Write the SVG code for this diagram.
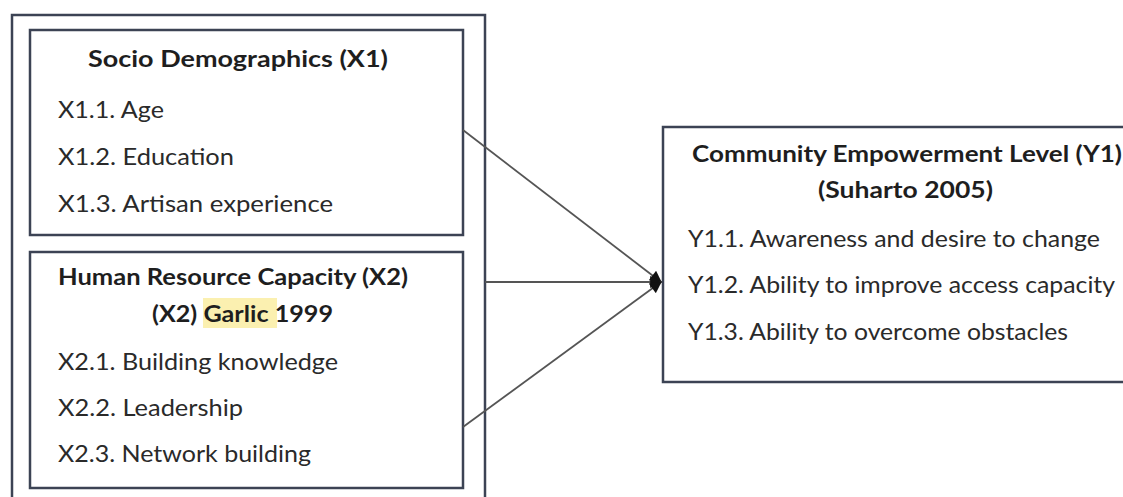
<svg xmlns="http://www.w3.org/2000/svg" width="1123" height="497" viewBox="0 0 1123 497">
<style>
.box{fill:none;stroke:#3c4354;stroke-width:2.5}
.t{font-family:Lato,"Open Sans","Liberation Sans",sans-serif;font-size:23px;fill:#2a2a2a}
.b{font-weight:bold;fill:#1e1e1e}
.c{stroke:#555;stroke-width:1.8;fill:none;marker-end:url(#ah)}
</style>
<defs>
<marker id="ah" viewBox="0 0 10 10" refX="9" refY="5" markerWidth="14" markerHeight="12" markerUnits="userSpaceOnUse" orient="auto">
<path d="M0,0 L10,5 L0,10 z" fill="#111"/>
</marker>
</defs>
<rect width="1123" height="497" fill="#ffffff"/>
<rect id="outer" class="box" x="12" y="15" width="473" height="500"/>
<g id="x1">
<rect class="box" x="30" y="30" width="433" height="205"/>
<text class="t b" x="88" y="67" textLength="300" lengthAdjust="spacingAndGlyphs">Socio Demographics (X1)</text>
<text class="t" x="58" y="118" textLength="106" lengthAdjust="spacingAndGlyphs">X1.1. Age</text>
<text class="t" x="58" y="165" textLength="176" lengthAdjust="spacingAndGlyphs">X1.2. Education</text>
<text class="t" x="58" y="212" textLength="275" lengthAdjust="spacingAndGlyphs">X1.3. Artisan experience</text>
</g>
<g id="x2">
<rect class="box" x="30" y="252" width="433" height="236"/>
<text class="t b" x="58" y="285" textLength="350" lengthAdjust="spacingAndGlyphs">Human Resource Capacity (X2)</text>
<rect x="203" y="298" width="74" height="30" fill="#fbf0b0"/>
<text class="t b" x="152" y="322" textLength="181" lengthAdjust="spacingAndGlyphs">(X2) Garlic 1999</text>
<text class="t" x="58" y="370" textLength="280" lengthAdjust="spacingAndGlyphs">X2.1. Building knowledge</text>
<text class="t" x="58" y="416" textLength="185" lengthAdjust="spacingAndGlyphs">X2.2. Leadership</text>
<text class="t" x="58" y="462" textLength="253" lengthAdjust="spacingAndGlyphs">X2.3. Network building</text>
</g>
<g id="y1">
<rect class="box" x="663" y="127" width="480" height="255"/>
<text class="t b" x="692" y="162" textLength="430" lengthAdjust="spacingAndGlyphs">Community Empowerment Level (Y1)</text>
<text class="t b" x="818" y="198" textLength="175" lengthAdjust="spacingAndGlyphs">(Suharto 2005)</text>
<text class="t" x="688" y="247" textLength="412" lengthAdjust="spacingAndGlyphs">Y1.1. Awareness and desire to change</text>
<text class="t" x="688" y="293" textLength="427" lengthAdjust="spacingAndGlyphs">Y1.2. Ability to improve access capacity</text>
<text class="t" x="688" y="340" textLength="380" lengthAdjust="spacingAndGlyphs">Y1.3. Ability to overcome obstacles</text>
</g>
<g id="connectors">
<line class="c" x1="463" y1="130" x2="661" y2="282"/>
<line class="c" x1="485" y1="282" x2="661" y2="282"/>
<line class="c" x1="463" y1="427" x2="661" y2="282"/>
</g>
</svg>
